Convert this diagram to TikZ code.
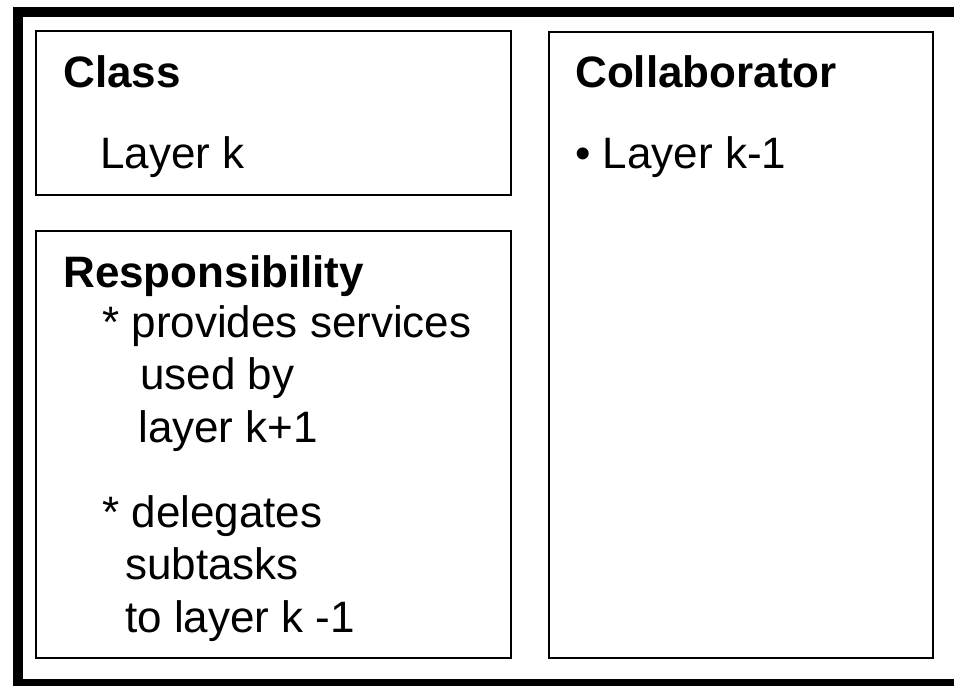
\documentclass[tikz,border=0pt]{standalone}
\usepackage{fontspec}
\setmainfont{Liberation Sans}

\tikzset{
  card/.style={draw, line width=1.9pt},
  head/.style={anchor=base west, inner sep=0pt, font=\fontsize{33}{39}\selectfont\bfseries},
  entry/.style={anchor=base west, inner sep=0pt, font=\fontsize{33}{39}\selectfont},
}

\begin{document}
\begin{tikzpicture}[x=0.75pt, y=-0.75pt]
  \useasboundingbox (0,0) rectangle (954,686);
  \clip (0,0) rectangle (954,686);
  % thick frame around the card
  \draw[line width=7.5pt] (18,12) rectangle (975,684);
  % the three fields
  \draw[card] (36,31) rectangle (511,195);
  \draw[card] (36,231) rectangle (511,658);
  \draw[card] (549,32) rectangle (933,658);
  % Class field
  \node[head] (cls) at (63,87) {Class};
  \node[entry] (clsname) at (100,168) {Layer k};
  % Responsibility field
  \node[head] (resp) at (63,287) {Responsibility};
  \foreach \i/\x/\y/\t in {1/102/337/{* provides services}, 2/140/389/{used by}, 3/138/442/{layer k+1},
                           4/102/527/{* delegates}, 5/125/579/{subtasks}, 6/125/632/{to layer k -1}}{
    \node[entry] (resp\i) at (\x,\y) {\t};
  }
  % Collaborator field
  \node[head] (coll) at (575,87) {Collaborator};
  \node[entry] (coll1) at (575,168) {\textbullet\ Layer k-1};
\end{tikzpicture}
\end{document}
